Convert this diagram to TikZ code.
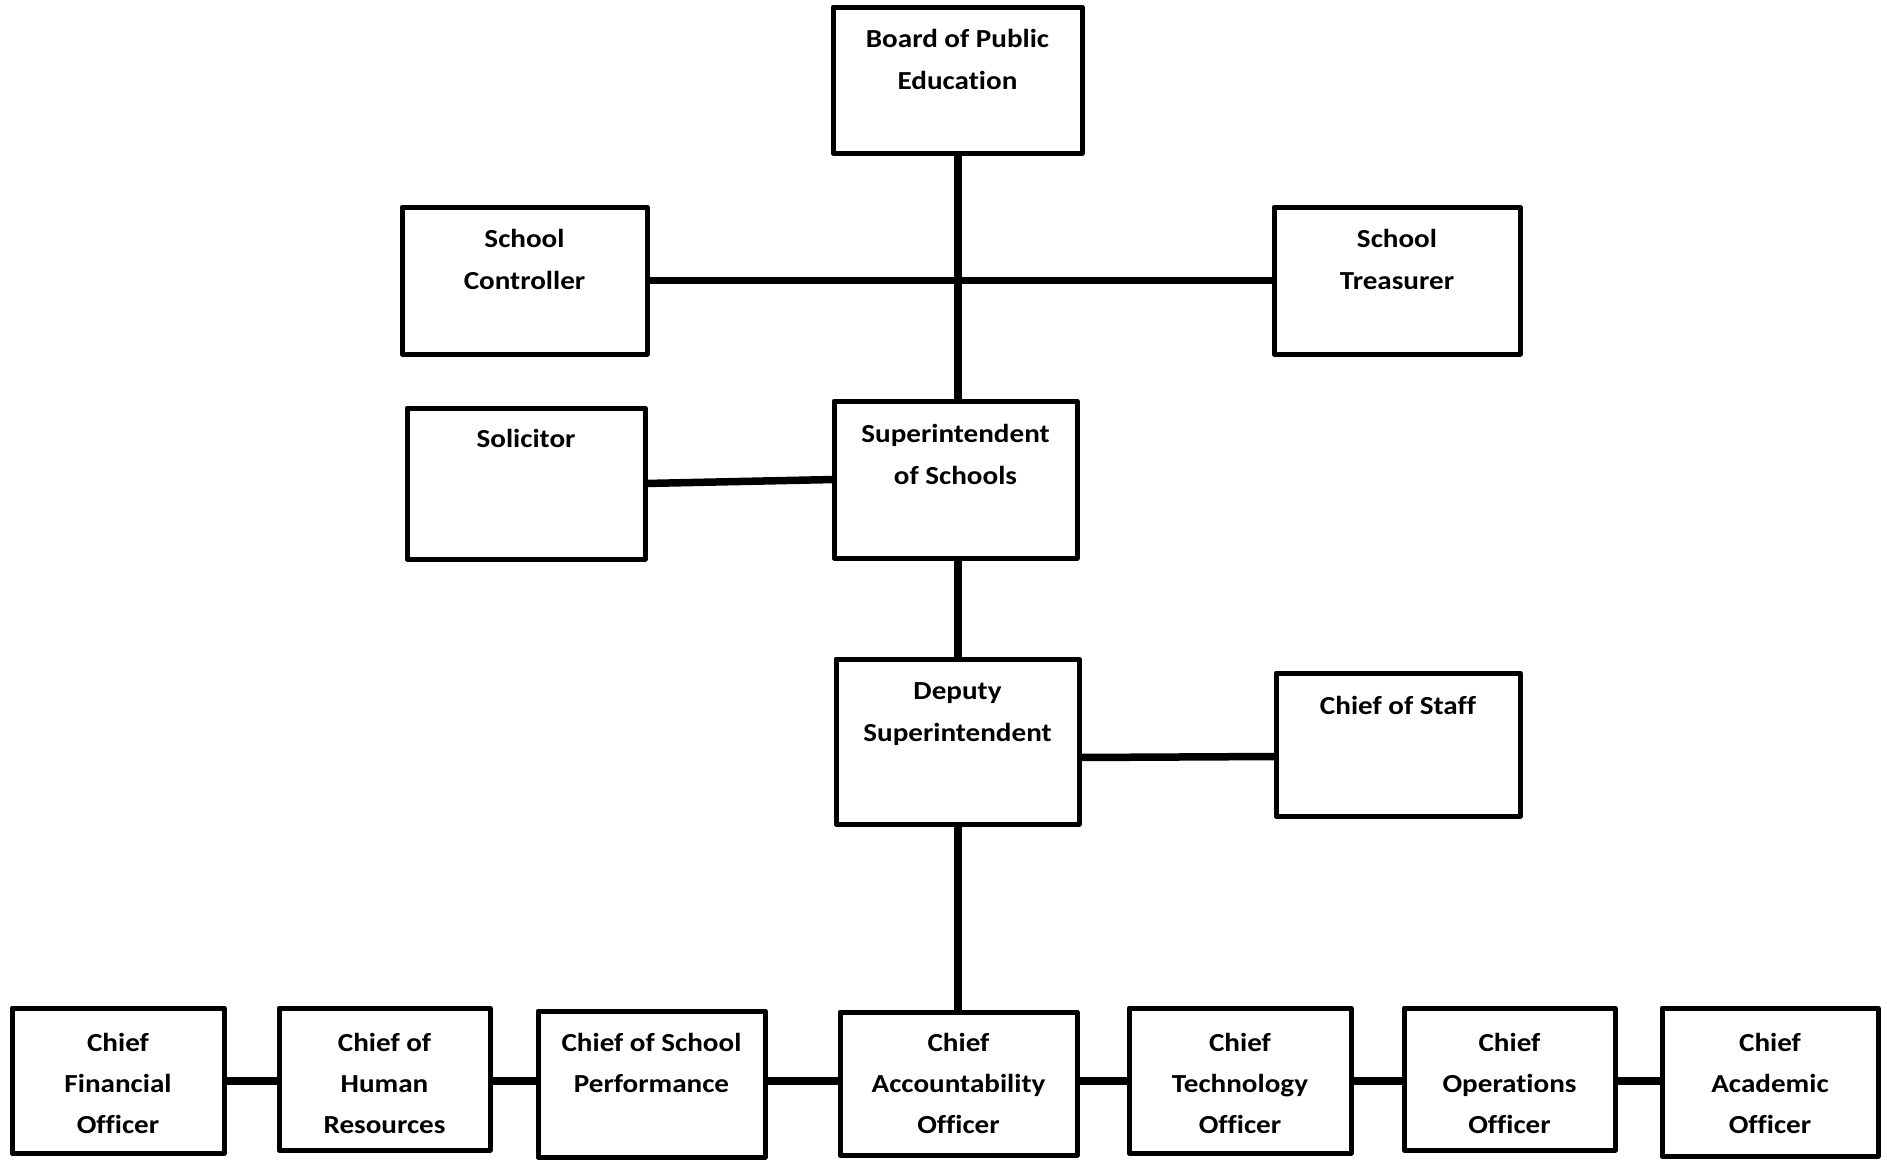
\documentclass[tikz,border=0pt]{standalone}
\usepackage{fontspec}
\setmainfont{Carlito}[FakeStretch=1.12,RawFeature={-liga}]
\begin{document}
\begin{tikzpicture}[x=1pt,y=-1pt,
  box/.style={draw=black,line width=5pt,line join=round,fill=white,rectangle,outer sep=0pt,inner sep=0pt},
  lbl/.style={align=center,inner sep=0pt,anchor=north,font=\fontsize{26}{42}\selectfont\bfseries},
  rlbl/.style={lbl,font=\fontsize{26}{41}\selectfont\bfseries},
  conn/.style={draw=black,line width=7.5pt}]
\useasboundingbox (0,0) rectangle (1887,1159);
\coordinate (trunk) at (958,0);
\coordinate (row) at (0,1081);
\coordinate (rowlbl) at (0,1031.5);
% boxes
\node[box,minimum width=249pt,minimum height=146pt] (bd)  at (957.5,80) {};
\node[box,minimum width=245pt,minimum height=147pt] (ctl) at (524.5,280.5) {};
\node[box,minimum width=246pt,minimum height=147pt] (trs) at (1397,280.5) {};
\node[box,minimum width=238pt,minimum height=151pt] (sol) at (526,483.5) {};
\node[box,minimum width=243pt,minimum height=157pt] (sup) at (955.5,479.5) {};
\node[box,minimum width=243pt,minimum height=165pt] (dep) at (957.5,741.5) {};
\node[box,minimum width=244pt,minimum height=143pt] (cos) at (1398,744.5) {};
\node[box,minimum width=212pt,minimum height=145pt] (cfo) at (118,1080.5) {};
\node[box,minimum width=211pt,minimum height=142pt] (chr) at (384.5,1079) {};
\node[box,minimum width=227pt,minimum height=146pt] (csp) at (651.5,1084) {};
\node[box,minimum width=237pt,minimum height=143pt] (cao) at (958.5,1083.5) {};
\node[box,minimum width=222pt,minimum height=145pt] (cto) at (1240,1080.5) {};
\node[box,minimum width=211pt,minimum height=142pt] (coo) at (1509.5,1079) {};
\node[box,minimum width=216pt,minimum height=148pt] (aco) at (1770,1082) {};
% connectors
\draw[conn] (trunk |- bd.south) -- (trunk |- sup.north);
\draw[conn] (ctl.east) -- (trs.west);
\draw[conn] (sol.east) -- (sup.west);
\draw[conn] (trunk |- sup.south) -- (trunk |- dep.north);
\draw[conn] ([yshift=-16pt]dep.east) -- ([yshift=-12pt]cos.west);
\draw[conn] (trunk |- dep.south) -- (trunk |- cao.north);
\draw[conn] (cfo.east |- row) -- (chr.west |- row);
\draw[conn] (chr.east |- row) -- (csp.west |- row);
\draw[conn] (csp.east |- row) -- (cao.west |- row);
\draw[conn] (cao.east |- row) -- (cto.west |- row);
\draw[conn] (cto.east |- row) -- (coo.west |- row);
\draw[conn] (coo.east |- row) -- (aco.west |- row);
% labels
\node[lbl] (bdL)  at ([yshift=-20pt]bd.north)  {\rule{0pt}{20pt}Board of Public\\Education};
\node[lbl] (ctlL) at ([yshift=-20pt]ctl.north) {\rule{0pt}{20pt}School\\Controller};
\node[lbl] (trsL) at ([yshift=-20pt]trs.north) {\rule{0pt}{20pt}School\\Treasurer};
\node[lbl] (solL) at ([yshift=-19pt]sol.north) {\rule{0pt}{20pt}Solicitor};
\node[lbl] (supL) at ([yshift=-21pt]sup.north) {\rule{0pt}{20pt}Superintendent\\of Schools};
\node[lbl] (depL) at ([yshift=-20.5pt]dep.north) {\rule{0pt}{20pt}Deputy\\Superintendent};
\node[lbl] (cosL) at ([yshift=-21pt]cos.north) {\rule{0pt}{20pt}Chief of Staff};
\node[rlbl] (cfoL) at (cfo |- rowlbl) {\rule{0pt}{20pt}Chief\\Financial\\Officer};
\node[rlbl] (chrL) at (chr |- rowlbl) {\rule{0pt}{20pt}Chief of\\Human\\Resources};
\node[rlbl] (cspL) at (csp |- rowlbl) {\rule{0pt}{20pt}Chief of School\\Performance};
\node[rlbl] (caoL) at (cao |- rowlbl) {\rule{0pt}{20pt}Chief\\Accountability\\Officer};
\node[rlbl] (ctoL) at (cto |- rowlbl) {\rule{0pt}{20pt}Chief\\Technology\\Officer};
\node[rlbl] (cooL) at (coo |- rowlbl) {\rule{0pt}{20pt}Chief\\Operations\\Officer};
\node[rlbl] (acoL) at (aco |- rowlbl) {\rule{0pt}{20pt}Chief\\Academic\\Officer};
\end{tikzpicture}
\end{document}
